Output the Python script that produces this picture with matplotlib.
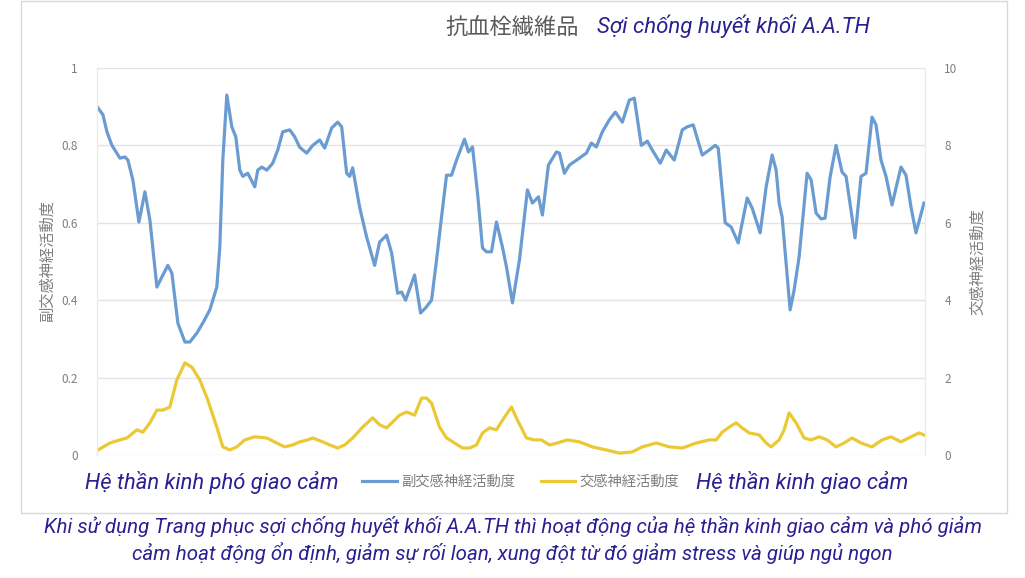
import matplotlib
matplotlib.use("Agg")
import matplotlib.pyplot as plt
from matplotlib.patches import Rectangle

plt.rcParams["font.family"] = ["Noto Sans CJK JP", "DejaVu Sans"]

# time in seconds since start of recording
para_t = [1, 6, 10, 15, 23, 28, 31, 36, 42, 48, 53, 60, 65, 71, 75, 81, 88, 93,
          100, 106, 113, 120, 123, 126, 130, 135, 139, 143, 146, 151, 158, 161,
          165, 170, 176, 181, 186, 193, 198, 203, 210, 216, 223, 228, 235, 241,
          245, 250, 253, 256, 263, 270, 278, 283, 290, 295, 301, 305, 309, 318,
          324, 329, 335, 340, 345, 350, 355, 360, 368, 372, 376, 381, 386, 390,
          395, 400, 406, 410, 416, 423, 431, 436, 442, 446, 452, 460, 463, 468,
          473, 483, 490, 495, 500, 506, 513, 519, 526, 533, 538, 545, 551, 556,
          564, 570, 578, 586, 591, 597, 606, 613, 619, 622, 629, 635, 642, 651,
          656, 664, 670, 676, 680, 683, 686, 694, 698, 703, 711, 715, 720, 725,
          729, 734, 740, 746, 750, 759, 765, 770, 776, 780, 785, 790, 796, 805,
          810, 815, 820, 828]
para_val = [0.897, 0.879, 0.835, 0.80, 0.767, 0.77, 0.762, 0.71, 0.602, 0.68,
            0.607, 0.434, 0.46, 0.49, 0.47, 0.341, 0.292, 0.292, 0.315, 0.341,
            0.375, 0.434, 0.537, 0.762, 0.93, 0.848, 0.822, 0.736, 0.72, 0.728,
            0.693, 0.736, 0.744, 0.736, 0.754, 0.788, 0.835, 0.84, 0.822, 0.795,
            0.78, 0.80, 0.814, 0.793, 0.845, 0.86, 0.848, 0.728, 0.72, 0.742,
            0.64, 0.563, 0.49, 0.55, 0.568, 0.522, 0.418, 0.421, 0.40, 0.465,
            0.367, 0.38, 0.40, 0.504, 0.615, 0.723, 0.723, 0.762, 0.816, 0.783,
            0.796, 0.677, 0.535, 0.525, 0.525, 0.602, 0.537, 0.486, 0.393, 0.504,
            0.685, 0.651, 0.667, 0.62, 0.749, 0.783, 0.78, 0.728, 0.749, 0.767,
            0.78, 0.806, 0.796, 0.835, 0.866, 0.886, 0.86, 0.917, 0.922, 0.80,
            0.811, 0.788, 0.754, 0.788, 0.762, 0.84, 0.848, 0.853, 0.775, 0.788,
            0.80, 0.793, 0.60, 0.589, 0.548, 0.664, 0.638, 0.574, 0.693, 0.775,
            0.736, 0.651, 0.615, 0.375, 0.426, 0.512, 0.728, 0.711, 0.625, 0.61,
            0.612, 0.718, 0.80, 0.731, 0.72, 0.561, 0.72, 0.728, 0.873, 0.853,
            0.762, 0.72, 0.646, 0.744, 0.723, 0.641, 0.574, 0.651]

symp_t = [1, 13, 23, 30, 40, 46, 53, 60, 66, 73, 80, 88, 95, 103, 111, 120,
          126, 133, 140, 148, 158, 170, 180, 188, 196, 203, 211, 216, 226, 233,
          241, 248, 256, 266, 276, 283, 290, 296, 303, 310, 318, 325, 330, 335,
          343, 350, 358, 366, 373, 380, 386, 393, 400, 406, 415, 421, 430, 438,
          445, 453, 461, 471, 483, 496, 510, 523, 536, 546, 560, 573, 586, 600,
          613, 620, 626, 633, 640, 646, 653, 663, 670, 675, 683, 688, 693, 700,
          708, 715, 723, 731, 740, 748, 756, 765, 776, 786, 795, 805, 815, 823,
          828]
symp_val = [0.13, 0.31, 0.39, 0.44, 0.65, 0.59, 0.83, 1.16, 1.16, 1.24, 1.94,
            2.38, 2.27, 1.94, 1.42, 0.72, 0.21, 0.13, 0.21, 0.39, 0.47, 0.44,
            0.31, 0.21, 0.26, 0.34, 0.39, 0.44, 0.34, 0.26, 0.18, 0.26, 0.44,
            0.72, 0.96, 0.78, 0.70, 0.85, 1.03, 1.11, 1.03, 1.47, 1.47, 1.34,
            0.72, 0.44, 0.31, 0.18, 0.18, 0.26, 0.57, 0.70, 0.65, 0.90, 1.24,
            0.90, 0.44, 0.39, 0.39, 0.26, 0.31, 0.39, 0.34, 0.21, 0.13, 0.05,
            0.08, 0.21, 0.31, 0.21, 0.18, 0.31, 0.39, 0.39, 0.59, 0.72, 0.83,
            0.70, 0.57, 0.52, 0.31, 0.21, 0.39, 0.65, 1.09, 0.83, 0.44, 0.39,
            0.47, 0.39, 0.21, 0.31, 0.44, 0.31, 0.21, 0.39, 0.47, 0.34, 0.47,
            0.57, 0.52]

left_ticks = [0, 0.2, 0.4, 0.6, 0.8, 1]
left_labels = ["0", "0.2", "0.4", "0.6", "0.8", "1"]
right_ticks = [0, 2, 4, 6, 8, 10]

BLUE = "#6A9BD1"
YELLOW = "#EBC934"
GREY = "#7F7F7F"
NAVY = "#2B2092"
VI_FONT = ["Roboto", "DejaVu Sans"]

fig = plt.figure(figsize=(10.25, 5.78), dpi=100)

# frame of the embedded chart picture
fig.patches.append(Rectangle((0.02, 0.113), 0.962, 0.885, transform=fig.transFigure,
                             fill=False, edgecolor="#D9D9D9", linewidth=1.0))

ax = fig.add_axes([0.0946, 0.2128, 0.8078, 0.6696])
ax2 = ax.twinx()

ax.plot(para_t, para_val, color=BLUE, linewidth=2.3, solid_joinstyle="round",
        label="副交感神経活動度")
ax2.plot(symp_t, symp_val, color=YELLOW, linewidth=2.3, solid_joinstyle="round",
         label="交感神経活動度")

ax.set_xlim(0, 829)
ax.set_ylim(0, 1)
ax2.set_ylim(0, 10)
ax.set_yticks(left_ticks)
ax.set_yticklabels(left_labels)
ax2.set_yticks(right_ticks)
ax.set_xticks([])

ax.grid(axis="y", color="#E4E4E4", linewidth=1.0)
ax.set_axisbelow(True)
for a in (ax, ax2):
    for side in ("top", "bottom"):
        a.spines[side].set_visible(False)
    a.spines["left"].set_color("#EBEBEB")
    a.spines["right"].set_color("#EBEBEB")
    a.tick_params(axis="y", length=0, labelsize=8.5, labelcolor=GREY, pad=14)

ax.set_ylabel("副交感神経活動度", fontsize=11, color=GREY, labelpad=4)
ax2.set_ylabel("交感神経活動度", fontsize=11, color=GREY, rotation=90, labelpad=8)

fig.text(0.5, 0.951, "抗血栓繊維品", fontsize=16, color="#5A5A5A",
         ha="center", va="center")
fig.text(0.582, 0.955, "Sợi chống huyết khối A.A.TH", fontsize=16,
         color=NAVY, style="italic", family=VI_FONT, ha="left", va="center")

fig.legend(handles=[ax.lines[0], ax2.lines[0]], loc="center",
           bbox_to_anchor=(0.508, 0.166), ncol=2, frameon=False, fontsize=10.3,
           labelcolor=GREY, handlelength=2.4, columnspacing=1.8, handletextpad=0.3)

fig.text(0.083, 0.166, "Hệ thần kinh phó giao cảm", fontsize=15.8, color=NAVY,
         style="italic", family=VI_FONT, ha="left", va="center")
fig.text(0.679, 0.166, "Hệ thần kinh giao cảm", fontsize=15.8, color=NAVY,
         style="italic", family=VI_FONT, ha="left", va="center")

caption = ("Khi sử dụng Trang phục sợi chống huyết khối A.A.TH thì hoạt động của hệ thần kinh giao cảm và phó giảm\n"
           "cảm hoạt động ổn định, giảm sự rối loạn, xung đột từ đó giảm stress và giúp ngủ ngon")
fig.text(0.5, 0.066, caption, fontsize=14.8, color=NAVY, style="italic",
         family=VI_FONT, ha="center", va="center", linespacing=1.25)

fig.savefig("out.png", dpi=100)
